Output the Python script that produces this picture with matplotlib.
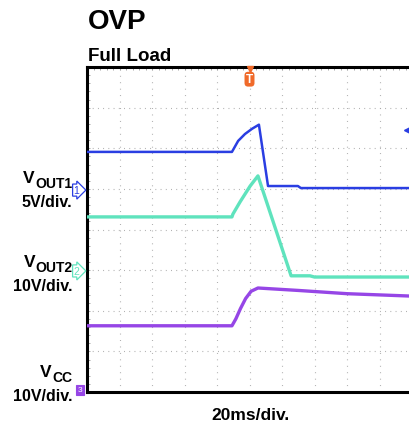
import numpy as np
import matplotlib
matplotlib.use("Agg")
import matplotlib.pyplot as plt

plt.rcParams['font.family'] = ['Liberation Sans', 'DejaVu Sans']

# trace data, in scope divisions (x: 0..10, y: 0..8)
vout1_x = [0.0, 4.46, 4.65, 4.86, 5.08, 5.29, 5.57, 6.49, 6.58, 10.0]
vout1_y = [5.91, 5.91, 6.18, 6.35, 6.48, 6.58, 5.07, 5.07, 5.02, 5.02]

vout2_x = [0.0, 4.46, 4.49, 4.71, 5.02, 5.26, 6.28, 6.86, 7.0, 10.0]
vout2_y = [4.31, 4.31, 4.38, 4.68, 5.07, 5.32, 2.86, 2.86, 2.83, 2.83]

vcc_x = [0.0, 4.46, 4.58, 4.72, 4.88, 5.05, 5.26, 6.5, 8.0, 10.0]
vcc_y = [1.63, 1.63, 1.80, 2.05, 2.30, 2.48, 2.56, 2.50, 2.42, 2.36]

ch_names = ['OUT1', 'OUT2', 'CC']
ch_scales = ['5V/div.', '10V/div.', '10V/div.']
ch_ground = [4.97, 2.98, 0.0]
ch_colors = ['#2a3ee2', '#5fe3bd', '#9646e6']
trig_x = 5.0
trig_level = 6.45

fig = plt.figure(figsize=(4.09, 4.27), dpi=100)
ax = fig.add_axes([87/409, 34/427, 325/409, 325/427])
ax.set_xlim(0, 10)
ax.set_ylim(0, 8)

# dotted graticule
for gx in range(1, 10):
    ax.axvline(gx, color='#a8a8a8', lw=0.8, ls=(0, (0.8, 5.0)), zorder=1)
for gy in range(1, 8):
    ax.axhline(gy, color='#a8a8a8', lw=0.8, ls=(0, (0.8, 3.9)), zorder=1)

ax.set_xticks([])
ax.set_yticks([])
ax.set_xticks(np.arange(0, 10.01, 0.2), minor=True)
ax.set_yticks(np.arange(0, 8.01, 0.2), minor=True)
ax.tick_params(which='minor', direction='in', length=2, width=0.6, color='#999999',
               top=True, bottom=False, left=True, right=False,
               labelbottom=False, labelleft=False)
for s in ['top', 'bottom', 'left']:
    ax.spines[s].set_linewidth(2.2)
ax.spines['right'].set_visible(False)

ax.plot(vout1_x, vout1_y, color=ch_colors[0], lw=1.8, zorder=4)
ax.plot(vout2_x, vout2_y, color=ch_colors[1], lw=2.4, zorder=3)
ax.plot(vcc_x, vcc_y, color=ch_colors[2], lw=2.4, zorder=3)

# trigger markers
ax.plot([trig_x], [7.95], marker='v', color='#f06a2a', ms=5, clip_on=False, zorder=6)
ax.text(trig_x, 7.70, 'T', color='white', fontsize=8.5, fontweight='bold',
        ha='center', va='center', zorder=7,
        bbox=dict(boxstyle='round,pad=0.12,rounding_size=0.3', fc='#f06a2a', ec='none'))
ax.plot([9.88], [trig_level], marker='<', color=ch_colors[0], ms=6, clip_on=False, zorder=6)

# channel ground markers and labels
for i in range(3):
    c = ch_colors[i]
    if i < 2:
        ax.annotate(str(i + 1), xy=(0, ch_ground[i]), xytext=(-7.5, 0), textcoords='offset points',
                    fontsize=7.5, color=c, ha='center', va='center', annotation_clip=False,
                    bbox=dict(boxstyle='rarrow,pad=0.1', fc='white', ec=c, lw=0.9))
    else:
        ax.annotate(str(i + 1), xy=(0, ch_ground[i]), xytext=(-5, 1.5), textcoords='offset points',
                    fontsize=6, color='white', ha='center', va='center', annotation_clip=False,
                    bbox=dict(boxstyle='square,pad=0.2', fc=c, ec=c, lw=0.8))

label_y = [183, 267, 377]
for i in range(3):
    by = 1 - label_y[i] / 427
    t = fig.text(72/409, by - 5/427, ch_names[i], fontsize=10, fontweight='bold',
                 ha='right', va='baseline')
    fig.canvas.draw()
    bb = t.get_window_extent()
    fig.text(bb.x0 / 409, by, 'V', fontsize=12.5, fontweight='bold', ha='right', va='baseline')
    fig.text(72/409, by - 24/427, ch_scales[i], fontsize=11.5, fontweight='bold',
             ha='right', va='baseline')

fig.text(88/409, 1 - 29/427, 'OVP', fontsize=20, fontweight='bold', va='baseline')
fig.text(88/409, 1 - 61/427, 'Full Load', fontsize=13.5, fontweight='bold', va='baseline')
fig.text(250/409, 1 - 420/427, '20ms/div.', fontsize=12.5, fontweight='bold',
         ha='center', va='baseline')

fig.savefig('out.png', dpi=100)
